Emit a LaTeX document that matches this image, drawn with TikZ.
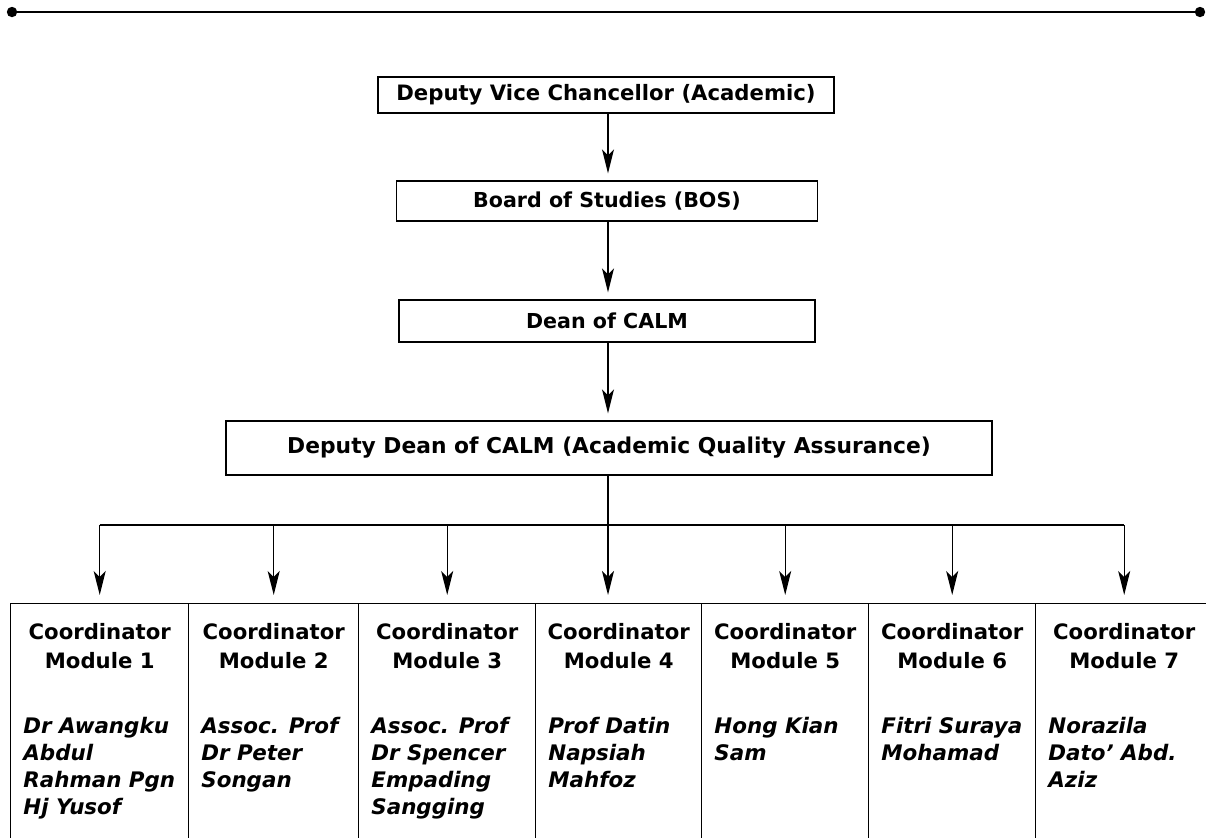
\documentclass[tikz,border=0pt]{standalone}
\usepackage{fontspec}
\setmainfont{DejaVu Sans}
\usetikzlibrary{arrows.meta}

\tikzset{
  post/.style={draw, line width=0.7pt, inner sep=0pt,
    font=\bfseries\fontsize{10.3}{12}\selectfont},
  cell/.style={draw, line width=0.7pt, inner sep=0pt, minimum height=160pt},
  head/.style={inner sep=0pt, align=center,
    font=\bfseries\fontsize{10.6}{14.5}\selectfont},
  who/.style={inner sep=0pt, align=left,
    font=\bfseries\itshape\fontsize{10.7}{13.5}\selectfont},
  link/.style={->, line width=0.7pt, shorten >=3.5pt}
}

\begin{document}
\begin{tikzpicture}[x=0.5pt, y=-0.5pt, >={Stealth[length=12pt,width=6pt,inset=3pt]}]
\useasboundingbox (0,0) rectangle (1206,837);

% rule on top of the page
\draw[line width=1pt] (12,12) -- (1200,12);
\fill (12,12) circle (2.6pt);
\fill (1200,12) circle (2.6pt);

% chain of offices
\coordinate (spine) at (608,0);
\node[post, minimum width=228pt, minimum height=18pt, font=\bfseries\fontsize{10.6}{12}\selectfont] (dvc) at (606,95) {Deputy Vice Chancellor (Academic)};
\node[post, minimum width=210.5pt, minimum height=20pt] (bos) at (607,201) {Board of Studies (BOS)};
\node[post, minimum width=208pt, minimum height=21pt] (dean) at (607,321) {Dean of CALM};
\node[post, minimum width=383pt, minimum height=27pt, font=\bfseries\fontsize{10.9}{12}\selectfont] (ddean) at (609,448) {Deputy Dean of CALM (Academic Quality Assurance)};

\draw[link] (dvc.south -| spine) -- (bos.north -| spine);
\draw[link] (bos.south -| spine) -- (dean.north -| spine);
\draw[link] (dean.south -| spine) -- (ddean.north -| spine);

% module coordinators
\foreach \i/\xa/\xb/\who in {
  1/10/188/{Dr Awangku\\Abdul\\Rahman Pgn\\Hj Yusof},
  2/188/358/{Assoc. Prof\\Dr Peter\\Songan},
  3/358/535/{Assoc. Prof\\Dr Spencer\\Empading\\Sangging},
  4/535/701/{Prof Datin\\Napsiah\\Mahfoz},
  5/701/868/{Hong Kian\\Sam},
  6/868/1035/{Fitri Suraya\\Mohamad},
  7/1035/1212/{Norazila\\Dato' Abd.\\Aziz}}{
  \node[cell, minimum width={(\xb-\xa)*0.5pt}, anchor=north west] (col\i) at (\xa,603) {};
  \node[head, anchor=north] (head\i) at ([yshift=-10pt]col\i.north) {Coordinator\\Module \i};
  \node[who, anchor=north west] (who\i) at ([xshift=6.5pt,yshift=-57pt]col\i.north west) {\who};
}

% branches
\coordinate (bus) at (0,525);
\draw[line width=0.7pt] (ddean.south -| spine) -- (spine |- bus);
\draw[line width=0.7pt] (col1.north |- bus) -- (col7.north |- bus);
\foreach \i in {1,2,3,5,6,7}
  \draw[link, shorten >=4pt] (col\i.north |- bus) -- (col\i.north);
\draw[link, shorten >=4pt] (spine |- bus) -- (col4.north -| spine);
\end{tikzpicture}
\end{document}
